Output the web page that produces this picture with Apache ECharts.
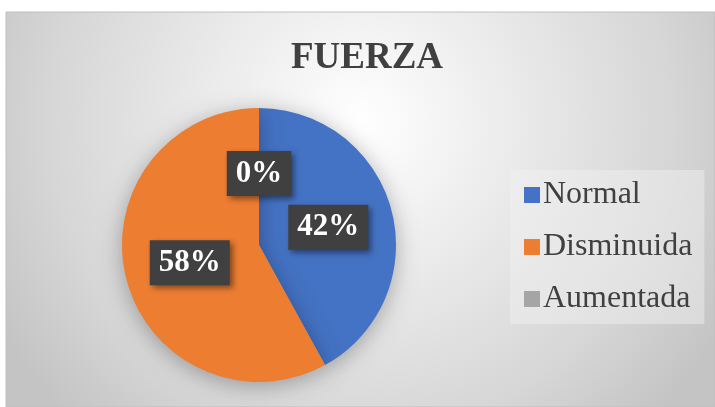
<!DOCTYPE html>
<html>
<head>
<meta charset="utf-8">
<script src="https://cdn.jsdelivr.net/npm/echarts@6/dist/echarts.min.js"></script>
<style>
html,body{margin:0;padding:0;background:#fff;}
#chart{width:715px;height:407px;}
</style>
</head>
<body>
<div id="chart"></div>
<script>
// datos de la grafica
var titulo = "FUERZA";
var categorias = ["Normal", "Disminuida", "Aumentada"];
var valores = [42, 58, 0];
var colores = ["#4472C4", "#ED7D31", "#A5A5A5"];

var myChart = echarts.init(document.getElementById("chart"));

var datos = [];
for (var i = 0; i < categorias.length; i++) {
    datos.push({ name: categorias[i], value: valores[i], itemStyle: { color: colores[i] } });
}

var option = {
    animation: false,
    backgroundColor: "#ffffff",
    graphic: [{
        type: "rect",
        z: -10,
        shape: { x: 6, y: 12, width: 709, height: 395 },
        style: {
            fill: new echarts.graphic.RadialGradient(0.5, 0.28, 1.05, [
                { offset: 0, color: "#ffffff" },
                { offset: 0.75, color: "#d6d6d6" },
                { offset: 1, color: "#c4c4c4" }
            ]),
            stroke: "#bfbfbf",
            lineWidth: 1
        }
    }],
    title: {
        text: titulo,
        left: 362,
        textAlign: "center",
        top: 35,
        textStyle: {
            fontFamily: "Liberation Serif",
            fontWeight: "bold",
            fontSize: 37,
            color: "#404040"
        }
    },
    legend: {
        orient: "vertical",
        left: 510,
        top: 170,
        padding: [9, 12, 9, 14],
        backgroundColor: "rgba(242,242,242,0.45)",
        itemWidth: 16,
        itemHeight: 16,
        itemGap: 20,
        icon: "rect",
        data: categorias,
        textStyle: {
            fontFamily: "Liberation Serif",
            fontSize: 32,
            color: "#404040",
            padding: [0, 0, 0, -2]
        }
    },
    series: [{
        type: "pie",
        center: [259, 245],
        radius: 137,
        startAngle: 90,
        clockwise: true,
        avoidLabelOverlap: false,
        itemStyle: {
            shadowBlur: 22,
            shadowColor: "rgba(0,0,0,0.3)",
            shadowOffsetY: 4
        },
        label: {
            show: true,
            position: "inside",
            formatter: "{d}%",
            fontFamily: "Liberation Serif",
            fontWeight: "bold",
            fontSize: 31,
            color: "#ffffff",
            backgroundColor: "#404040",
            padding: [8, 9, 6, 9],
            shadowColor: "rgba(0,0,0,0.45)",
            shadowBlur: 6,
            shadowOffsetX: 3,
            shadowOffsetY: 3
        },
        labelLine: { show: false },
        emphasis: { disabled: true },
        data: datos
    }]
};

myChart.setOption(option);
</script>
</body>
</html>
